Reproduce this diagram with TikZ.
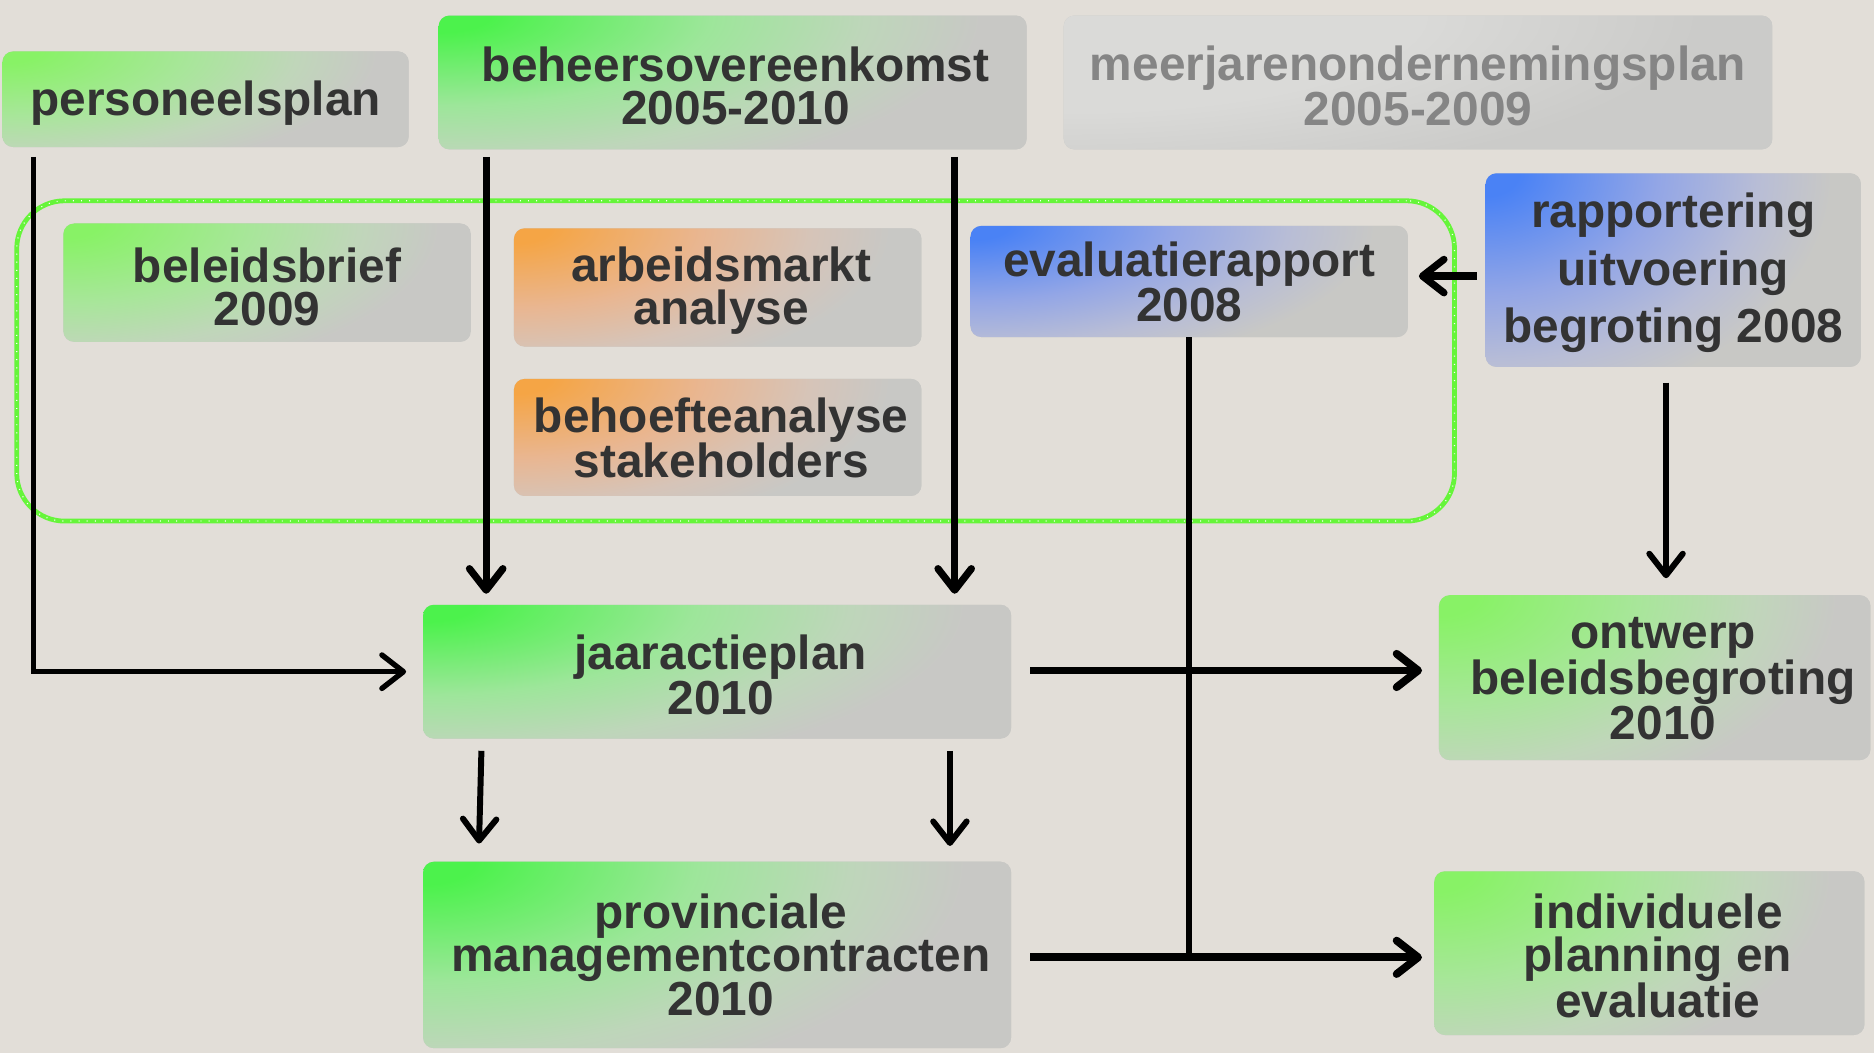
\documentclass[tikz,border=0pt]{standalone}
\usepackage{fontspec}
\setmainfont{Liberation Sans}
\usetikzlibrary{arrows.meta,calc}
\definecolor{bg}{HTML}{E2DED8}
\definecolor{txt}{HTML}{333333}
\definecolor{txtgray}{HTML}{858585}
\definecolor{endg}{HTML}{C8C8C5}
\definecolor{gA}{HTML}{4CF24C}
\definecolor{gAm}{HTML}{9DE69A}
\definecolor{gAn}{HTML}{BED6BA}
\definecolor{gL}{HTML}{88F266}
\definecolor{gLm}{HTML}{A8E69A}
\definecolor{gLn}{HTML}{C0D6BA}
\definecolor{orA}{HTML}{F5A545}
\definecolor{orAm}{HTML}{E9B691}
\definecolor{orAn}{HTML}{D6C4B8}
\definecolor{blA}{HTML}{4A82F5}
\definecolor{blAm}{HTML}{93A6E6}
\definecolor{blAn}{HTML}{B8BDD6}
\definecolor{grA}{HTML}{DADAD8}
\definecolor{grB}{HTML}{CBCBC9}
\definecolor{grn}{HTML}{66F53A}
\pgfdeclareradialshading{shG}{\pgfpoint{0bp}{0bp}}{color(0bp)=(gA);color(2bp)=(gA);color(10.5bp)=(gAm);color(16.5bp)=(gAn);color(21bp)=(endg);color(50bp)=(endg)}
\pgfdeclareradialshading{shL}{\pgfpoint{0bp}{0bp}}{color(0bp)=(gL);color(2bp)=(gL);color(10.5bp)=(gLm);color(16.5bp)=(gLn);color(21bp)=(endg);color(50bp)=(endg)}
\pgfdeclareradialshading{shO}{\pgfpoint{0bp}{0bp}}{color(0bp)=(orA);color(2bp)=(orA);color(10.5bp)=(orAm);color(16.5bp)=(orAn);color(21bp)=(endg);color(50bp)=(endg)}
\pgfdeclareradialshading{shB}{\pgfpoint{0bp}{0bp}}{color(0bp)=(blA);color(2bp)=(blA);color(10.5bp)=(blAm);color(16.5bp)=(blAn);color(21bp)=(endg);color(50bp)=(endg)}
\pgfdeclareradialshading{shM}{\pgfpoint{0bp}{0bp}}{color(0bp)=(grA);color(12.5bp)=(grA);color(22.5bp)=(grB);color(50bp)=(grB)}
\begin{document}
\begin{tikzpicture}[x=1pt,y=-1pt,
  box/.style={rounded corners=9pt, inner sep=0pt},
  psh/.style n args={3}{box, fill=endg, path picture={
      \shade[shading=#1] ($(path picture bounding box.north west)+(-#2,-#3)$)
        rectangle ($(path picture bounding box.north west)+(#2,#3)$);}},
  lbl/.style={inner sep=0pt, align=center, font=\fontsize{40}{36}\selectfont\bfseries, text=txt},
  arr/.style={-{Straight Barb[length=18pt,width=28pt,round]}, line width=5.5pt, black},
  plain/.style={line width=5pt, black},
  group/.style={draw=grn, line width=4pt, rounded corners=40pt, inner sep=0pt,
    postaction={draw=white, line width=1pt, dash pattern=on 0.8pt off 6pt}}
]
\fill[bg] (0,0) rectangle (1568,881);
\useasboundingbox (0,0) rectangle (1568,881);

\node[group, minimum width=1203pt, minimum height=268pt] (grp) at (615.5,302) {};

% boxes
\node[psh={shL}{374}{128}, minimum width=340pt, minimum height=80pt] (P) at (172,83) {};
\node[psh={shG}{541}{179}, minimum width=492pt, minimum height=112pt] (B) at (613,69) {};
\node[psh={shM}{593}{160}, minimum width=593pt, minimum height=112pt] (M) at (1186.5,69) {};
\node[psh={shL}{375}{158}, minimum width=341pt, minimum height=99pt] (BB) at (223.5,236.5) {};
\node[psh={shO}{375}{158}, minimum width=341pt, minimum height=99pt] (A) at (600.5,240.5) {};
\node[psh={shO}{375}{157}, minimum width=341pt, minimum height=98pt] (BH) at (600.5,366) {};
\node[psh={shB}{403}{149}, minimum width=366pt, minimum height=93pt] (E) at (995,235.5) {};
\node[psh={shB}{345}{240}, minimum width=314pt, minimum height=162pt] (R) at (1400,226) {};
\node[psh={shG}{541}{179}, minimum width=492pt, minimum height=112pt] (J) at (600,562) {};
\node[psh={shL}{397}{220}, minimum width=361pt, minimum height=138pt] (O) at (1384.5,567) {};
\node[psh={shG}{541}{240}, minimum width=492pt, minimum height=156pt] (PM) at (600,799) {};
\node[psh={shL}{396}{219}, minimum width=360pt, minimum height=137pt] (I) at (1380,797.5) {};

% texts
\node[lbl] (Pt) at ($(P.center)+(0,3)$) {personeelsplan};
\node[lbl] (Bt) at ($(B.center)+(2.5,2.5)$) {beheersovereenkomst\\2005-2010};
\node[lbl, text=txtgray] (Mt) at ($(M.center)+(0,3)$) {meerjarenondernemingsplan\\2005-2009};
\node[lbl] (BBt) at ($(BB.center)+(0,3.5)$) {beleidsbrief\\2009};
\node[lbl] (At) at ($(A.center)+(3,2.5)$) {arbeidsmarkt\\analyse};
\node[lbl] (BHt) at ($(BH.center)+(3,0.5)$) {behoefteanalyse\\stakeholders};
\node[lbl] (Et) at ($(E.center)+(0,0.5)$) {evaluatierapport\\2008};
\node[lbl, font=\fontsize{40}{48}\selectfont\bfseries] (Rt) at ($(R.center)+(0,2.5)$) {rapportering\\uitvoering\\begroting 2008};
\node[lbl] (Jt) at ($(J.center)+(3,2.5)$) {jaaractieplan\\2010};
\node[lbl] (Ot) at ($(O.center)+(7,1)$) {ontwerp\\beleidsbegroting\\2010};
\node[lbl] (PMt) at ($(PM.center)+(3,0)$) {provinciale\\managementcontracten\\2010};
\node[lbl] (It) at ($(I.center)+(7,2)$) {individuele\\planning en\\evaluatie};

% connectors
\draw[arr, line width=4.5pt] ($(P.south west)+(26,8)$) |- ($(J.west)+(-14,0)$);
\draw[arr, line width=6pt] ($(B.south west)+(40,6)$) -- ($(B.south west |- J.north)+(40,-9)$);
\draw[arr, line width=6pt] ($(B.south west)+(432,6)$) -- ($(B.south west |- J.north)+(432,-9)$);
\draw[arr, line width=5pt] ($(J.south west)+(49,10)$) -- ($(J.south west |- PM.north)+(47,-15)$);
\draw[arr, line width=5pt] ($(J.south west)+(441,10)$) -- ($(J.south west |- PM.north)+(441,-13)$);
\draw[arr, line width=6.5pt] ($(J.east)+(16,-1)$) -- ($(J.east -| O.west)+(-14,-1)$);
\coordinate (m) at ($(PM.east)+(16,2)$);
\draw[arr, line width=6.5pt] (m) -- ($(m -| I.west)+(-10,0)$);
\draw[plain] (E.south) -- (E.south |- m);
\coordinate (r1) at ($(R.south)+(-6,13)$);
\draw[arr, line width=5pt] (r1) -- ($(r1 |- O.north)+(0,-14)$);
\draw[arr, line width=6pt] ($(R.west)+(-7,5)$) -- ($(E.east)+(9,-4.5)$);
\end{tikzpicture}
\end{document}
